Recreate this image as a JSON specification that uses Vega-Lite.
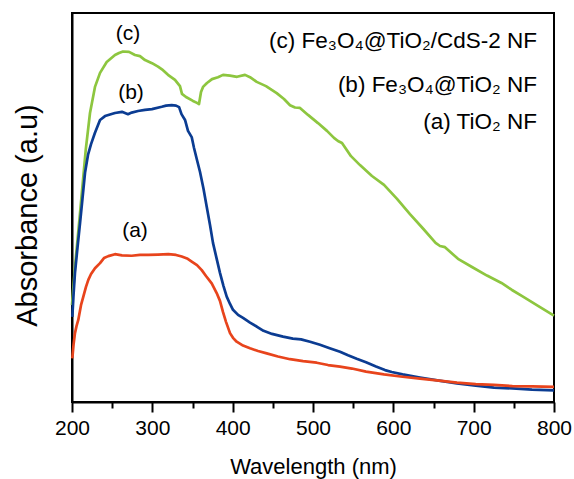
{
  "$schema": "https://vega.github.io/schema/vega-lite/v6.json",
  "width": 482,
  "height": 389,
  "autosize": "none",
  "padding": {"left": 72, "top": 13, "right": 20, "bottom": 77},
  "background": "white",
  "config": {
    "view": {"stroke": "black", "strokeWidth": 2},
    "font": "Liberation Sans",
    "text": {"font": "Liberation Sans"}
  },
  "datasets": {
    "curves": [
      {"s":"c","x":200,"y":24.9},{"s":"c","x":203.7,"y":34.7},{"s":"c","x":210.0,"y":48.6},{"s":"c","x":217.1,"y":64.8},{"s":"c","x":222.4,"y":74.3},{"s":"c","x":228.6,"y":81.0},{"s":"c","x":234.9,"y":84.6},{"s":"c","x":243.2,"y":87.4},{"s":"c","x":253.5,"y":89.2},{"s":"c","x":258.5,"y":89.7},{"s":"c","x":263.5,"y":90.1},{"s":"c","x":271.0,"y":90.0},{"s":"c","x":278.4,"y":89.2},{"s":"c","x":284.6,"y":88.9},{"s":"c","x":290.9,"y":87.9},{"s":"c","x":299.6,"y":87.1},{"s":"c","x":307.1,"y":86.2},{"s":"c","x":313.3,"y":85.3},{"s":"c","x":319.5,"y":84.1},{"s":"c","x":328.2,"y":82.8},{"s":"c","x":334.4,"y":81.2},{"s":"c","x":336.9,"y":79.2},{"s":"c","x":341.9,"y":78.4},{"s":"c","x":350.6,"y":77.4},{"s":"c","x":355.6,"y":76.9},{"s":"c","x":358.1,"y":76.6},{"s":"c","x":360.6,"y":79.7},{"s":"c","x":363.1,"y":81.0},{"s":"c","x":368.0,"y":82.0},{"s":"c","x":374.3,"y":83.0},{"s":"c","x":381.7,"y":83.5},{"s":"c","x":388.0,"y":84.1},{"s":"c","x":396.7,"y":83.9},{"s":"c","x":405.4,"y":83.6},{"s":"c","x":415.4,"y":84.1},{"s":"c","x":421.6,"y":83.5},{"s":"c","x":429.9,"y":82.3},{"s":"c","x":441.5,"y":81.2},{"s":"c","x":454.8,"y":79.4},{"s":"c","x":463.9,"y":77.9},{"s":"c","x":471.4,"y":76.3},{"s":"c","x":477.6,"y":75.7},{"s":"c","x":483.8,"y":75.6},{"s":"c","x":493.8,"y":73.8},{"s":"c","x":506.2,"y":71.7},{"s":"c","x":517.4,"y":69.7},{"s":"c","x":526.1,"y":67.9},{"s":"c","x":531.1,"y":67.1},{"s":"c","x":536.1,"y":66.6},{"s":"c","x":547.3,"y":63.2},{"s":"c","x":558.5,"y":60.9},{"s":"c","x":573.4,"y":58.1},{"s":"c","x":588.4,"y":55.8},{"s":"c","x":604.6,"y":52.2},{"s":"c","x":620.7,"y":48.3},{"s":"c","x":636.9,"y":44.6},{"s":"c","x":652.6,"y":40.9},{"s":"c","x":658.1,"y":40.1},{"s":"c","x":664.3,"y":39.8},{"s":"c","x":680.5,"y":36.8},{"s":"c","x":697.9,"y":34.7},{"s":"c","x":716.6,"y":32.5},{"s":"c","x":734.6,"y":30.6},{"s":"c","x":747.7,"y":28.8},{"s":"c","x":761.4,"y":27.1},{"s":"c","x":780.1,"y":24.7},{"s":"c","x":798.4,"y":22.4},{"s":"c","x":800,"y":22.2},
      {"s":"b","x":200.4,"y":21.9},{"s":"b","x":201.9,"y":27.5},{"s":"b","x":203.7,"y":33.2},{"s":"b","x":206.8,"y":39.6},{"s":"b","x":210.0,"y":46.0},{"s":"b","x":213.1,"y":52.4},{"s":"b","x":216.2,"y":58.9},{"s":"b","x":219.9,"y":63.5},{"s":"b","x":223.7,"y":66.3},{"s":"b","x":228.6,"y":69.2},{"s":"b","x":234.9,"y":72.5},{"s":"b","x":241.1,"y":73.5},{"s":"b","x":247.3,"y":73.9},{"s":"b","x":253.5,"y":74.3},{"s":"b","x":262.2,"y":74.6},{"s":"b","x":269.7,"y":74.0},{"s":"b","x":274.3,"y":74.4},{"s":"b","x":282.2,"y":74.8},{"s":"b","x":290.9,"y":75.1},{"s":"b","x":299.6,"y":75.3},{"s":"b","x":311.7,"y":75.9},{"s":"b","x":317.1,"y":76.2},{"s":"b","x":324.1,"y":76.3},{"s":"b","x":329.5,"y":76.2},{"s":"b","x":333.3,"y":75.8},{"s":"b","x":336.3,"y":74.0},{"s":"b","x":340.7,"y":72.5},{"s":"b","x":344.4,"y":69.7},{"s":"b","x":349.0,"y":68.1},{"s":"b","x":351.9,"y":65.3},{"s":"b","x":355.6,"y":62.2},{"s":"b","x":359.3,"y":59.2},{"s":"b","x":363.7,"y":54.8},{"s":"b","x":367.7,"y":50.2},{"s":"b","x":371.8,"y":45.5},{"s":"b","x":375.5,"y":40.9},{"s":"b","x":379.9,"y":37.0},{"s":"b","x":384.2,"y":33.2},{"s":"b","x":388.6,"y":29.8},{"s":"b","x":392.6,"y":27.1},{"s":"b","x":396.7,"y":25.2},{"s":"b","x":400.4,"y":23.7},{"s":"b","x":406.7,"y":22.4},{"s":"b","x":412.9,"y":21.6},{"s":"b","x":421.6,"y":20.4},{"s":"b","x":429.9,"y":19.4},{"s":"b","x":438.4,"y":18.3},{"s":"b","x":449.0,"y":17.5},{"s":"b","x":462.7,"y":16.8},{"s":"b","x":474.9,"y":16.3},{"s":"b","x":485.1,"y":16.1},{"s":"b","x":496.3,"y":15.5},{"s":"b","x":508.7,"y":14.7},{"s":"b","x":519.9,"y":13.9},{"s":"b","x":533.6,"y":12.9},{"s":"b","x":543.6,"y":12.0},{"s":"b","x":554.4,"y":11.1},{"s":"b","x":566.0,"y":10.2},{"s":"b","x":578.4,"y":9.1},{"s":"b","x":589.6,"y":8.2},{"s":"b","x":598.0,"y":7.7},{"s":"b","x":611.5,"y":7.1},{"s":"b","x":633.2,"y":6.3},{"s":"b","x":656.8,"y":5.5},{"s":"b","x":679.2,"y":4.8},{"s":"b","x":702.6,"y":4.2},{"s":"b","x":725.3,"y":3.7},{"s":"b","x":748.2,"y":3.5},{"s":"b","x":772.6,"y":3.2},{"s":"b","x":800,"y":3.0},
      {"s":"a","x":200.4,"y":11.2},{"s":"a","x":201.9,"y":14.7},{"s":"a","x":203.7,"y":17.7},{"s":"a","x":205.6,"y":19.5},{"s":"a","x":207.8,"y":21.1},{"s":"a","x":211.2,"y":24.9},{"s":"a","x":214.1,"y":27.1},{"s":"a","x":217.4,"y":29.6},{"s":"a","x":220.3,"y":31.4},{"s":"a","x":223.7,"y":32.9},{"s":"a","x":228.6,"y":34.4},{"s":"a","x":234.9,"y":35.7},{"s":"a","x":239.8,"y":37.0},{"s":"a","x":245.2,"y":37.5},{"s":"a","x":253.5,"y":38.0},{"s":"a","x":262.2,"y":37.7},{"s":"a","x":274.3,"y":37.6},{"s":"a","x":284.6,"y":37.8},{"s":"a","x":295.0,"y":37.8},{"s":"a","x":307.1,"y":37.9},{"s":"a","x":319.9,"y":38.0},{"s":"a","x":329.5,"y":37.8},{"s":"a","x":336.6,"y":37.4},{"s":"a","x":343.2,"y":36.9},{"s":"a","x":349.0,"y":36.1},{"s":"a","x":355.6,"y":35.2},{"s":"a","x":361.5,"y":33.9},{"s":"a","x":366.8,"y":32.4},{"s":"a","x":373.9,"y":30.5},{"s":"a","x":380.1,"y":28.0},{"s":"a","x":384.2,"y":26.0},{"s":"a","x":388.0,"y":23.1},{"s":"a","x":391.7,"y":20.6},{"s":"a","x":396.7,"y":17.7},{"s":"a","x":400.4,"y":16.5},{"s":"a","x":405.0,"y":15.5},{"s":"a","x":412.9,"y":14.5},{"s":"a","x":421.6,"y":13.8},{"s":"a","x":431.6,"y":13.1},{"s":"a","x":442.4,"y":12.5},{"s":"a","x":456.4,"y":11.7},{"s":"a","x":471.4,"y":11.0},{"s":"a","x":487.6,"y":10.5},{"s":"a","x":504.6,"y":10.1},{"s":"a","x":518.7,"y":9.5},{"s":"a","x":533.6,"y":9.1},{"s":"a","x":548.5,"y":8.6},{"s":"a","x":566.0,"y":7.8},{"s":"a","x":588.4,"y":7.1},{"s":"a","x":611.5,"y":6.5},{"s":"a","x":633.2,"y":6.0},{"s":"a","x":656.8,"y":5.5},{"s":"a","x":679.2,"y":5.0},{"s":"a","x":702.6,"y":4.6},{"s":"a","x":725.3,"y":4.4},{"s":"a","x":748.2,"y":4.1},{"s":"a","x":772.6,"y":4.0},{"s":"a","x":800,"y":3.9}
    ],
    "labels": [
      {"x": 269.7, "y": 94.6, "t": "(c)"},
      {"x": 273.4, "y": 79.4, "t": "(b)"},
      {"x": 278.4, "y": 44.0, "t": "(a)"}
    ],
    "legend": [
      {"x": 778.8, "y": 90.9, "t": "(c) Fe₃O₄@TiO₂/CdS-2 NF"},
      {"x": 778.8, "y": 79.8, "t": "(b) Fe₃O₄@TiO₂ NF"},
      {"x": 778.8, "y": 70.1, "t": "(a) TiO₂ NF"}
    ]
  },
  "layer": [
    {
      "data": {"name": "curves"},
      "mark": {"type": "line", "strokeWidth": 2.7, "strokeJoin": "round"},
      "encoding": {
        "x": {
          "field": "x", "type": "quantitative",
          "scale": {"domain": [200, 800], "nice": false, "zero": false},
          "axis": {
            "values": [200, 250, 300, 350, 400, 450, 500, 550, 600, 650, 700, 750, 800],
            "grid": false,
            "domainColor": "black", "domainWidth": 2,
            "tickColor": "black", "tickWidth": 2,
            "tickSize": {"condition": {"test": "datum.value % 100 === 0", "value": 10}, "value": 6},
            "labelExpr": "datum.value % 100 === 0 ? datum.label : ''",
            "labelFont": "Liberation Sans", "labelFontSize": 21, "labelColor": "black",
            "labelBaseline": "alphabetic", "labelPadding": 22, "labelFlush": false, "labelOverlap": false,
            "title": "Wavelength (nm)", "titleFont": "Liberation Sans", "titleFontSize": 22,
            "titleFontWeight": "normal", "titleColor": "black", "titleBaseline": "alphabetic", "titlePadding": 35
          }
        },
        "y": {
          "field": "y", "type": "quantitative",
          "scale": {"domain": [0, 100], "nice": false},
          "axis": {
            "grid": false, "ticks": false, "labels": false,
            "domainColor": "black", "domainWidth": 2,
            "title": "Absorbance (a.u)", "titleFont": "Liberation Sans", "titleFontSize": 29,
            "titleFontWeight": "normal", "titleColor": "black", "titleBaseline": "alphabetic",
            "titlePadding": 36, "titleY": 202
          }
        },
        "color": {
          "field": "s", "type": "nominal",
          "scale": {"domain": ["a", "b", "c"], "range": ["#e8441c", "#0b3c92", "#8dc63f"]},
          "legend": null
        }
      }
    },
    {
      "data": {"name": "labels"},
      "mark": {"type": "text", "fontSize": 21, "align": "center", "baseline": "middle", "color": "black", "font": "Liberation Sans"},
      "encoding": {
        "x": {"field": "x", "type": "quantitative"},
        "y": {"field": "y", "type": "quantitative"},
        "text": {"field": "t"}
      }
    },
    {
      "data": {"name": "legend"},
      "mark": {"type": "text", "fontSize": 22.5, "align": "right", "baseline": "alphabetic", "color": "black", "font": "Liberation Sans"},
      "encoding": {
        "x": {"field": "x", "type": "quantitative"},
        "y": {"field": "y", "type": "quantitative"},
        "text": {"field": "t"}
      }
    }
  ]
}
